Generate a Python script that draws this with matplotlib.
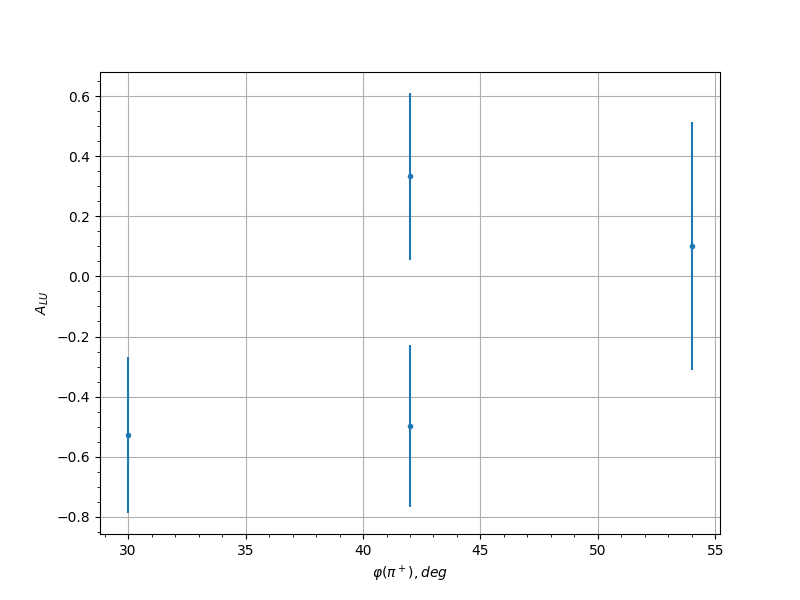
import numpy as np
import matplotlib
matplotlib.use("Agg")
import matplotlib.pyplot as plt

phi = [30, 42, 42, 54]
alu = [-0.527, 0.333, -0.497, 0.100]
alu_err = [0.260, 0.277, 0.270, 0.413]

fig, ax = plt.subplots(figsize=(8, 6), dpi=100)
ax.errorbar(phi, alu, yerr=alu_err, fmt='.', color='C0')
ax.set_xlabel(r'$\varphi(\pi^+), deg$')
ax.set_ylabel(r'$A_{LU}$')
ax.grid(True)
ax.minorticks_on()
ax.grid(False, which='minor')
fig.savefig("out.png", dpi=100)
